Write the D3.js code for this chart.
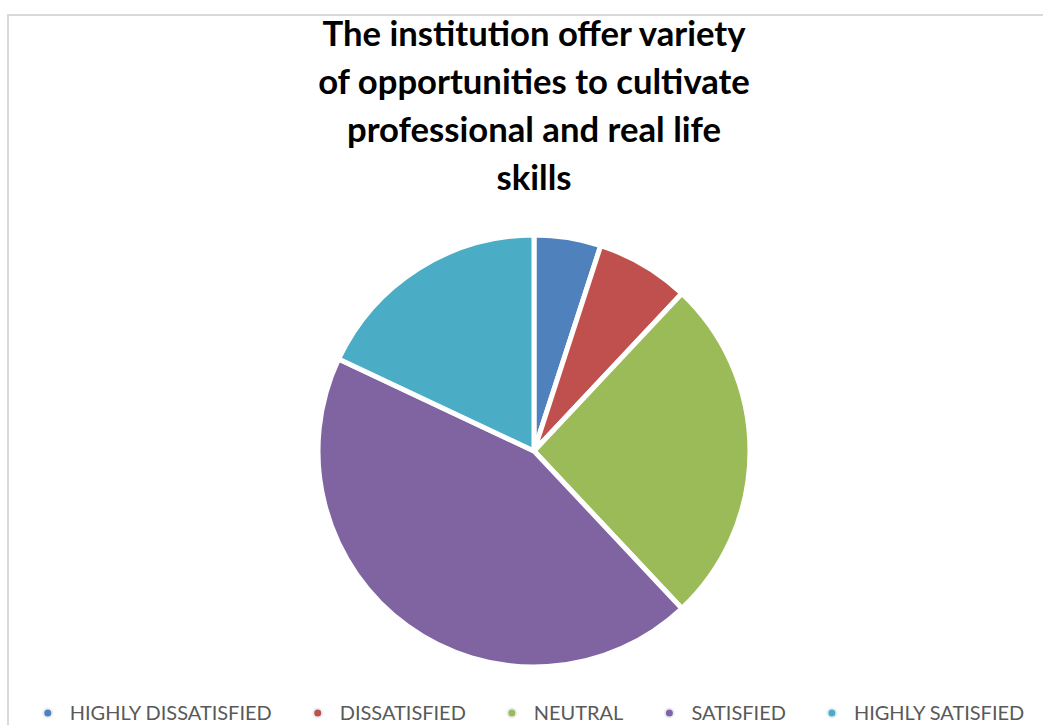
<!DOCTYPE html>
<html>
<head>
<meta charset="utf-8">
<script src="https://cdn.jsdelivr.net/npm/d3@7"></script>
<style>
  html, body { margin: 0; padding: 0; background: #fff; overflow: hidden; }
</style>
</head>
<body>
<svg></svg>
<script>
// Data
const categories = ["HIGHLY DISSATISFIED", "DISSATISFIED", "NEUTRAL", "SATISFIED", "HIGHLY SATISFIED"];
const values = [5, 7, 26, 44, 18];
const colors = ["#4F81BD", "#C0504D", "#9BBB59", "#8064A2", "#4BACC6"];
const titleLines = ["The institution offer variety", "of opportunities to cultivate", "professional and real life", "skills"];

// Sizes
const W = 1043, H = 725;
const cx = 534, cy = 451, radius = 216;

const svg = d3.select("svg")
  .attr("width", W)
  .attr("height", H);

// Chart border (runs off the right and bottom edges)
svg.append("rect")
  .attr("x", 8)
  .attr("y", 15)
  .attr("width", W + 20)
  .attr("height", H + 20)
  .attr("fill", "none")
  .attr("stroke", "#d9d9d9")
  .attr("stroke-width", 2);

// Title
const title = svg.append("text")
  .attr("text-anchor", "middle")
  .attr("font-family", "Lato, 'Open Sans', sans-serif")
  .attr("font-weight", "bold")
  .attr("font-size", 32)
  .attr("fill", "#000");

title.selectAll("tspan")
  .data(titleLines)
  .join("tspan")
    .attr("x", cx)
    .attr("y", (d, i) => 46 + i * 48)
    .text(d => d);

// fit the longest line to the width in the picture
let longest = 0;
title.selectAll("tspan").each(function() {
  longest = Math.max(longest, this.getComputedTextLength());
});
title.attr("font-size", 32 * 432 / longest);

// Pie
const pie = d3.pie().sort(null).value(d => d);
const arc = d3.arc().innerRadius(0).outerRadius(radius);

const g = svg.append("g")
  .attr("transform", `translate(${cx}, ${cy})`);

g.selectAll("path")
  .data(pie(values))
  .join("path")
    .attr("d", arc)
    .attr("fill", (d, i) => colors[i])
    .attr("stroke", "#fff")
    .attr("stroke-width", 5)
    .attr("stroke-linejoin", "round");

// Legend
const legend = svg.append("g")
  .attr("font-family", "Lato, 'Open Sans', sans-serif")
  .attr("font-size", 21)
  .attr("fill", "#595959");

const items = legend.selectAll("g")
  .data(categories)
  .join("g");

items.append("circle")
  .attr("r", 4.5)
  .attr("cy", -7)
  .attr("fill", (d, i) => colors[i])
  .attr("stroke", "#e8eef4")
  .attr("stroke-width", 2);

items.append("text")
  .attr("x", 22)
  .attr("y", 0)
  .text(d => d);

// fit label size to the picture, then lay items out in a centred row
const firstLen = items.select("text").node().getComputedTextLength();
legend.attr("font-size", 21 * 202 / firstLen);

const gap = 46;
const widths = [];
items.each(function() {
  widths.push(22 + d3.select(this).select("text").node().getComputedTextLength());
});
const total = d3.sum(widths) + gap * (widths.length - 1);
let xPos = cx - total / 2 + 2;
items.attr("transform", (d, i) => {
  const t = `translate(${xPos}, 720)`;
  xPos += widths[i] + gap;
  return t;
});
</script>
</body>
</html>
